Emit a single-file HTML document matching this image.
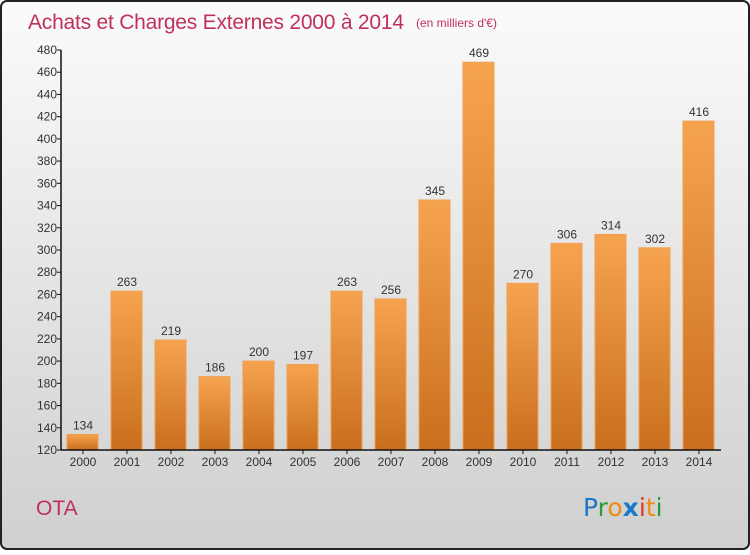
<!DOCTYPE html>
<html><head><meta charset="utf-8"><style>
body{margin:0;width:750px;height:550px;overflow:hidden;font-family:"Liberation Sans",sans-serif}
</style></head><body>
<svg id="c" width="750" height="550" xmlns="http://www.w3.org/2000/svg">
<defs>
<linearGradient id="bg" x1="0" y1="0" x2="0" y2="1"><stop offset="0" stop-color="#fbfbfb"/><stop offset="1" stop-color="#cfcfcf"/></linearGradient>
<linearGradient id="bar" x1="0" y1="0" x2="0" y2="1"><stop offset="0" stop-color="#f6a34f"/><stop offset="1" stop-color="#c96f1e"/></linearGradient>
</defs>
<rect x="1" y="1" width="748" height="548" rx="6" fill="url(#bg)" stroke="#222" stroke-width="2"/>
<text x="28" y="29" font-size="21" fill="#c0305a" textLength="376">Achats et Charges Externes 2000 à 2014</text>
<text x="416" y="27" font-size="12" fill="#c0305a">(en milliers d'€)</text>
<text x="36" y="515" font-size="21" fill="#c0305a">OTA</text>
<g font-size="25" font-family="'DejaVu Sans',sans-serif">
<text x="583" y="516"><tspan fill="#1a78c8">P</tspan><tspan fill="#2a9a3a">r</tspan><tspan fill="#f08a10">o</tspan><tspan fill="#1a78c8" font-weight="bold">x</tspan><tspan fill="#e03a1a">i</tspan><tspan fill="#f08a10">t</tspan><tspan fill="#2a9a3a">i</tspan></text>
</g>
<g id="plot"></g>
</svg>
<script>
const categories=["2000","2001","2002","2003","2004","2005","2006","2007","2008","2009","2010","2011","2012","2013","2014"];
const values=[134,263,219,186,200,197,263,256,345,469,270,306,314,302,416];
const yTicks=[120,140,160,180,200,220,240,260,280,300,320,340,360,380,400,420,440,460,480];
const NS="http://www.w3.org/2000/svg";
const g=document.getElementById('plot');
const x0=61,band=44,yMin=120,yMax=480,yTop=50,yBot=450;
const y=v=>yBot-(v-yMin)/(yMax-yMin)*(yBot-yTop);
const xb=i=>x0+band*i;
function el(t,a){const e=document.createElementNS(NS,t);for(const k in a)e.setAttribute(k,a[k]);g.appendChild(e);return e;}
categories.forEach((c,i)=>{
 const r=el('rect',{x:xb(i)+6,y:y(values[i]),width:31,height:yBot-y(values[i]),fill:'url(#bar)',stroke:'#f0a050','stroke-width':1});
 
 
 const t=el('text',{x:xb(i)+22,y:y(values[i])-5,'text-anchor':'middle','font-size':12,fill:'#333'});t.textContent=values[i];
 
 
 const tk=el('line',{x1:xb(i)+22,x2:xb(i)+22,y1:yBot,y2:yBot+4,stroke:'#111'});
 
 
 const xl=el('text',{x:xb(i)+22,y:yBot+16,'text-anchor':'middle','font-size':12,fill:'#333'});xl.textContent=c;
 
 
});
yTicks.forEach(v=>{
 const l=el('line',{x1:x0-4,x2:x0,y1:y(v),y2:y(v),stroke:'#111'});
 
 
 const t=el('text',{x:x0-4,y:y(v)+4,'text-anchor':'end','font-size':12,fill:'#333'});t.textContent=v;
 
 
});
const ya=el('line',{x1:x0,x2:x0,y1:yTop,y2:yBot,stroke:'#111','stroke-width':1.5});


const xa=el('line',{x1:x0,x2:x0+band*categories.length,y1:yBot,y2:yBot,stroke:'#111','stroke-width':1.5});


</script>
</body></html>
